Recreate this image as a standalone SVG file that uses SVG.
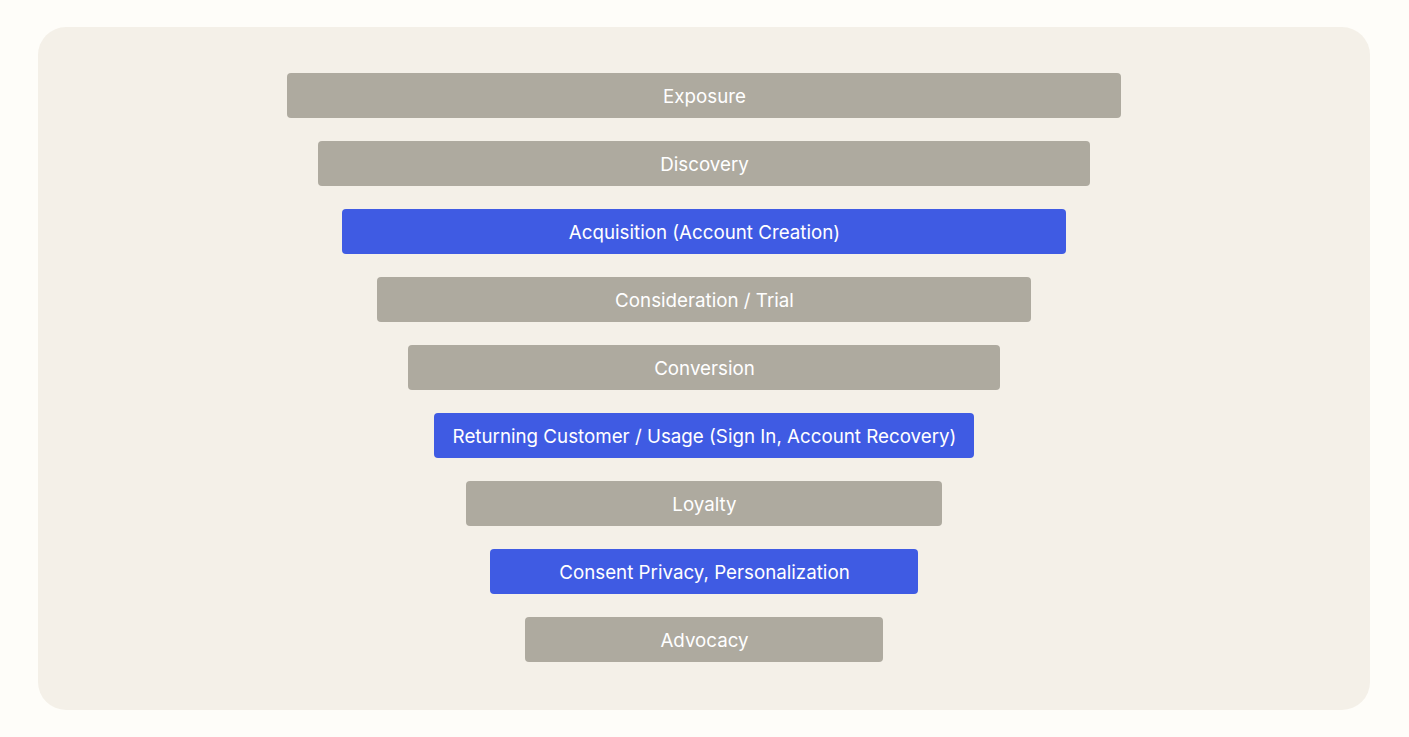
<svg xmlns="http://www.w3.org/2000/svg" width="1409" height="737" viewBox="0 0 1409 737">
<style>
.bar{fill:#aeaa9f}
.hl{fill:#3f5be3}
.t{font-family:Inter,"Liberation Sans",sans-serif;font-size:18.75px;fill:#ffffff;text-anchor:middle;dominant-baseline:central}
</style>
<rect width="1409" height="737" fill="#fefdf9"/>
<rect x="38" y="27" width="1332" height="683" rx="28" fill="#f4f0e8"/>
<g id="exposure"><rect class="bar" x="287" y="73" width="834" height="45" rx="4"/><text class="t" x="704.5" y="96.5">Exposure</text></g>
<g id="discovery"><rect class="bar" x="318" y="141" width="772" height="45" rx="4"/><text class="t" x="704.5" y="164.5">Discovery</text></g>
<g id="acquisition"><rect class="hl" x="342" y="209" width="724" height="45" rx="4"/><text class="t" x="704.5" y="232.5">Acquisition (Account Creation)</text></g>
<g id="consideration"><rect class="bar" x="377" y="277" width="654" height="45" rx="4"/><text class="t" x="704.5" y="300.5">Consideration / Trial</text></g>
<g id="conversion"><rect class="bar" x="408" y="345" width="592" height="45" rx="4"/><text class="t" x="704.5" y="368.5">Conversion</text></g>
<g id="returning"><rect class="hl" x="434" y="413" width="540" height="45" rx="4"/><text class="t" x="704.5" y="436.5">Returning Customer / Usage (Sign In, Account Recovery)</text></g>
<g id="loyalty"><rect class="bar" x="466" y="481" width="476" height="45" rx="4"/><text class="t" x="704.5" y="504.5">Loyalty</text></g>
<g id="consent"><rect class="hl" x="490" y="549" width="428" height="45" rx="4"/><text class="t" x="704.5" y="572.5">Consent Privacy, Personalization</text></g>
<g id="advocacy"><rect class="bar" x="525" y="617" width="358" height="45" rx="4"/><text class="t" x="704.5" y="640.5">Advocacy</text></g>
<g id="connectors"></g>
</svg>
